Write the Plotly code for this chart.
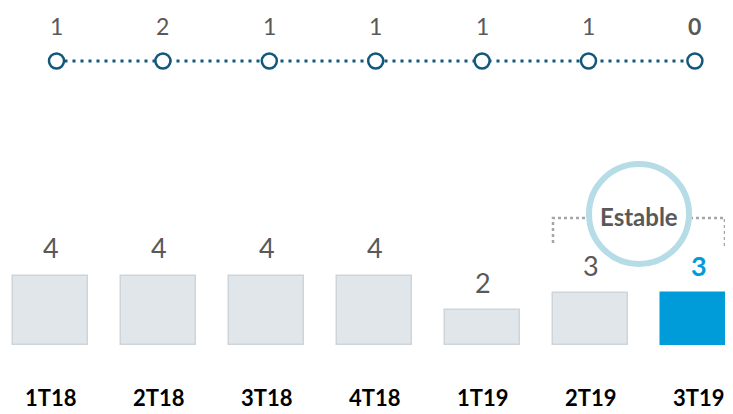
import plotly.graph_objects as go

categories = ["1T18", "2T18", "3T18", "4T18", "1T19", "2T19", "3T19"]
bar_values = [4, 4, 4, 4, 2, 3, 3]
line_values = [1, 2, 1, 1, 1, 1, 0]
note_text = "Estable"

# The page has an 8px body margin, so the figure is drawn from (8, 8).
OFF = 8
W, H = 733 - OFF, 414 - OFF
GRAY_TXT = "#595959"
BAR_GRAY = "#e1e6ea"
BAR_EDGE = "#cdd5db"
BLUE = "#009cd9"
TEAL = "#12587a"
FONT = "Lato"

def px(x):
    return (x - OFF) / W

def py(y):
    return 1 - (y - OFF) / H

n = len(categories)
bar_colors = [BAR_GRAY] * (n - 1) + [BLUE]
bar_edges = [BAR_EDGE] * (n - 1) + [BLUE]

fig = go.Figure()
fig.add_trace(go.Bar(
    x=categories, y=bar_values, width=0.694,
    marker=dict(color=bar_colors, line=dict(color=bar_edges, width=1.5)),
    xaxis="x", yaxis="y", hoverinfo="skip", showlegend=False,
))
fig.add_trace(go.Scatter(
    x=categories, y=[0] * n, mode="lines+markers",
    line=dict(color=TEAL, width=3, dash="3px,5px"),
    marker=dict(symbol="circle", size=15, color="white", line=dict(color=TEAL, width=2.5)),
    xaxis="x2", yaxis="y2", hoverinfo="skip", showlegend=False,
))

annotations = []
for i, (c, v) in enumerate(zip(categories, bar_values)):
    last = i == n - 1
    annotations.append(dict(
        x=c, y=v, xref="x", yref="y", text=f"<b>{v}</b>" if last else str(v),
        showarrow=False, xanchor="center", yanchor="middle", yshift=28,
        font=dict(family=FONT, size=27, color=BLUE if last else GRAY_TXT),
    ))
    annotations.append(dict(
        x=c, y=py(413), xref="x", yref="paper", text=f"<b>{c}</b>",
        showarrow=False, xanchor="center", yanchor="bottom",
        font=dict(family=FONT, size=22, color="#000000"),
    ))
for i, (c, v) in enumerate(zip(categories, line_values)):
    last = i == n - 1
    annotations.append(dict(
        x=c, y=0, xref="x2", yref="y2", text=f"<b>{v}</b>" if last else str(v),
        showarrow=False, xanchor="center", yanchor="middle", yshift=35,
        font=dict(family=FONT, size=23, color=GRAY_TXT),
    ))

cx, cy, r = px(639), py(214), 50
annotations.append(dict(
    x=cx, y=py(216), xref="paper", yref="paper", text=f"<b>{note_text}</b>",
    showarrow=False, xanchor="center", yanchor="middle",
    font=dict(family=FONT, size=24, color=GRAY_TXT),
))

shapes = [
    dict(type="path", xref="paper", yref="paper",
         path=f"M {px(553)} {py(243)} L {px(553)} {py(218)} L {px(725)} {py(218)} L {px(725)} {py(246)}",
         line=dict(color="#a6a6a6", width=2.5, dash="dot")),
    dict(type="circle", xref="paper", yref="paper", xsizemode="pixel", ysizemode="pixel",
         xanchor=cx, yanchor=cy, x0=-r, x1=r, y0=-r, y1=r,
         fillcolor="white", line=dict(color="#b5dce7", width=6)),
]

# axis ranges mapping categories to the reference pixel positions
bar_c0, bar_step = 50.5 - OFF, 108.0
line_c0, line_step = 56.5 - OFF, 106.4
bar_base, unit = 345 - OFF, 17.3
line_y = 61 - OFF

fig.update_layout(
    width=W, height=H, margin=dict(l=0, r=0, t=0, b=0),
    paper_bgcolor="white", plot_bgcolor="white",
    xaxis=dict(range=[-bar_c0 / bar_step, (W - bar_c0) / bar_step], visible=False, fixedrange=True),
    xaxis2=dict(range=[-line_c0 / line_step, (W - line_c0) / line_step], visible=False,
                overlaying="x", fixedrange=True),
    yaxis=dict(range=[-(H - bar_base) / unit, bar_base / unit], visible=False, fixedrange=True),
    yaxis2=dict(range=[-(H - line_y) / line_y, 1.0], visible=False, overlaying="y", fixedrange=True),
    annotations=annotations, shapes=shapes,
    bargap=0,
)

fig.write_html("out.html")
